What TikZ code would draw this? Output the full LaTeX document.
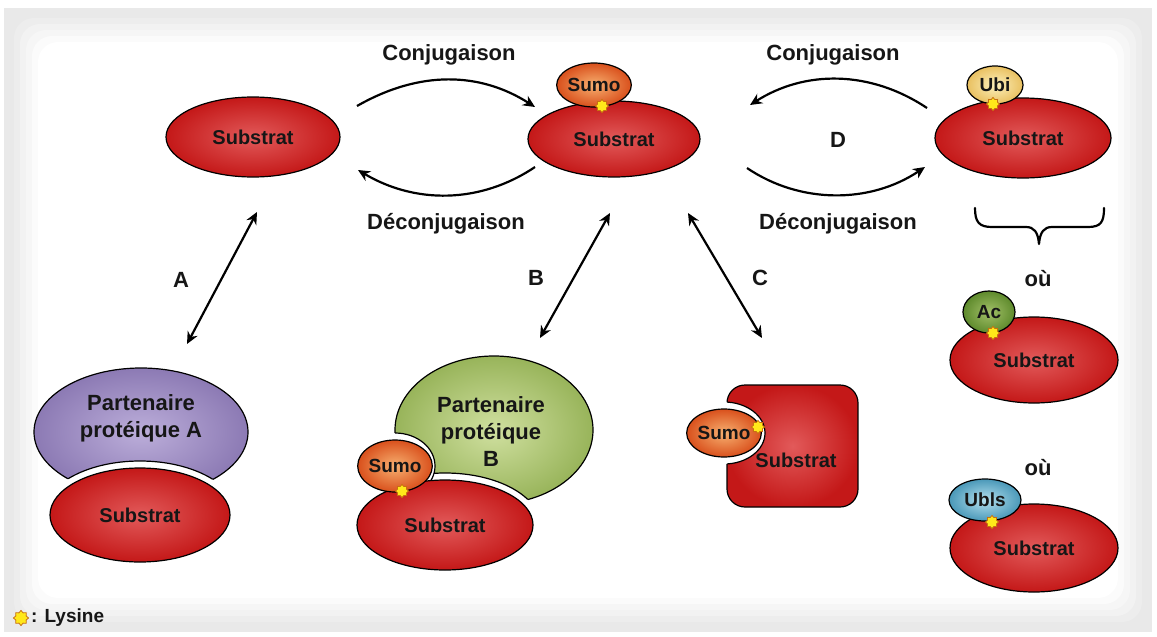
\documentclass[tikz,border=0pt]{standalone}
\usepackage{fontspec}
\setmainfont{Liberation Sans}
\usetikzlibrary{shapes.geometric,arrows.meta}
\definecolor{bggray}{HTML}{E9E9E9}
\definecolor{txt}{HTML}{161616}
\definecolor{redin}{HTML}{E25A5A}
\definecolor{redout}{HTML}{C41818}
\definecolor{sumoin}{HTML}{F7B070}
\definecolor{sumoout}{HTML}{D9501C}
\definecolor{ubiin}{HTML}{FCF0BC}
\definecolor{ubiout}{HTML}{E9C060}
\definecolor{acin}{HTML}{A2C068}
\definecolor{acout}{HTML}{5E8A2C}
\definecolor{ublsin}{HTML}{B4E0EE}
\definecolor{ublsout}{HTML}{4A98B8}
\definecolor{purin}{HTML}{BCAEDA}
\definecolor{purout}{HTML}{8C7AB4}
\definecolor{grnin}{HTML}{D0E0A0}
\definecolor{grnout}{HTML}{98B45A}
\definecolor{lysfill}{HTML}{FFE81A}
\definecolor{lysdraw}{HTML}{C87010}
\begin{document}
\begin{tikzpicture}[x=1pt,y=-1pt,
  lbl/.style={font=\bfseries\fontsize{22}{27}\selectfont, text=txt, inner sep=0pt},
  substrat/.style={ellipse, draw=black, line width=1.2pt, inner color=redin, outer color=redout,
    inner sep=0pt, text=txt, font=\bfseries\fontsize{20}{24}\selectfont},
  bubble/.style={ellipse, draw=black, line width=1.2pt, inner sep=0pt, text=txt,
    font=\bfseries\fontsize{19}{22}\selectfont},
  sumo/.style={bubble, inner color=sumoin, outer color=sumoout},
  ubi/.style={bubble, inner color=ubiin, outer color=ubiout},
  acet/.style={bubble, inner color=acin, outer color=acout},
  ubls/.style={bubble, inner color=ublsin, outer color=ublsout},
  lys/.style={star, star points=8, star point ratio=1.35, minimum size=13pt, inner sep=0pt,
    fill=lysfill, draw=lysdraw, line width=0.8pt},
  conn/.style={line width=2.2pt, draw=black},
  tipa/.style={conn, -{Stealth[length=12pt,width=11pt]}},
  tipb/.style={conn, {Stealth[length=12pt,width=11pt]}-{Stealth[length=12pt,width=11pt]}},
  gapline/.style={draw=black, line width=1.2pt, fill=white}
]
\useasboundingbox (0,0) rectangle (1157,637);
% background
\fill[white] (0,0) rectangle (1157,637);
\fill[bggray] (4,8) rectangle (1152,632);
\foreach \i/\p in {0/20,1/40,2/60,3/80,4/100}{
  \fill[white!\p!bggray, rounded corners=20pt] (14+6*\i,18+6*\i) rectangle (1142-6*\i,622-6*\i);
}

% ---------- top row ----------
\node[substrat, minimum width=174pt, minimum height=80pt] (s1) at (253,137) {Substrat};
\node[substrat, minimum width=172pt, minimum height=76pt] (s2) at (614,139) {Substrat};
\node[sumo, minimum width=66pt, minimum height=44pt] (sumo2) at (594,85) {Sumo};
\node[lys] (l2) at (602,106) {};
\node[substrat, minimum width=176pt, minimum height=80pt] (s3) at (1023,138) {Substrat};
\node[ubi, minimum width=56pt, minimum height=38pt] (ubi) at (995,85) {Ubi};
\node[lys] (l3) at (993,104) {};

\node[lbl] (conj1) at (449,55) {Conjugaison};
\node[lbl] (deconj1) at (446,224) {Déconjugaison};
\node[lbl] (conj2) at (833,55) {Conjugaison};
\node[lbl] (deconj2) at (838,224) {Déconjugaison};
\node[lbl] (labD) at (838,140) {D};

\coordinate (c1a) at (357,106);
\coordinate (c1b) at (535,107);
\coordinate (d1a) at (535,167);
\coordinate (d1b) at (358,170);
\coordinate (c2a) at (927,108);
\coordinate (c2b) at (750,105);
\coordinate (d2a) at (747,168);
\coordinate (d2b) at (925,167);
\draw[tipa] (c1a) .. controls (420,70) and (480,72) .. (c1b);
\draw[tipa] (d1a) .. controls (480,204) and (415,204) .. (d1b);
\draw[tipa] (c2a) .. controls (870,70) and (805,70) .. (c2b);
\draw[tipa] (d2a) .. controls (800,204) and (870,204) .. (d2b);

% ---------- diagonal arrows ----------
\coordinate (aTop) at (257,212);
\coordinate (aBot) at (187,344);
\coordinate (bTop) at (610,213);
\coordinate (bBot) at (540,338);
\coordinate (cTop) at (688,213);
\coordinate (cBot) at (762,338);
\draw[tipb] (aBot) -- (aTop);
\draw[tipb] (bBot) -- (bTop);
\draw[tipb] (cTop) -- (cBot);
\node[lbl] (labA) at (181,280) {A};
\node[lbl] (labB) at (536,278) {B};
\node[lbl] (labC) at (760,278) {C};

% ---------- A complex ----------
\begin{scope}[even odd rule]
  \clip (0,0) rectangle (1157,637) (140,515) ellipse [x radius=97, y radius=54];
  \shade[inner color=purin, outer color=purout, draw=black, line width=1.2pt]
    (141,432) ellipse [x radius=107, y radius=64];
\end{scope}
\begin{scope}
  \clip (141,432) ellipse [x radius=107, y radius=64];
  \path[gapline] (140,515) ellipse [x radius=97, y radius=54];
\end{scope}
\node[lbl, align=center] (partA) at (141,418) {Partenaire\\protéique A};
\node[substrat, minimum width=180pt, minimum height=94pt] (sA) at (140,515) {Substrat};

% ---------- B complex ----------
\begin{scope}[even odd rule]
  \clip (0,0) rectangle (1157,637) (445,525) ellipse [x radius=95, y radius=52];
  \begin{scope}
    \clip (0,0) rectangle (1157,637) (395,466) ellipse [x radius=40, y radius=33];
    \shade[inner color=grnin, outer color=grnout, draw=black, line width=1.2pt]
      (494,430) ellipse [x radius=99, y radius=74];
  \end{scope}
\end{scope}
\begin{scope}
  \clip (494,430) ellipse [x radius=99, y radius=74];
  \path[gapline] (445,525) ellipse [x radius=95, y radius=52];
  \path[gapline] (395,466) ellipse [x radius=40, y radius=33];
\end{scope}
\node[lbl, align=center] (partB) at (491,432) {Partenaire\\protéique\\B};
\node[substrat, minimum width=176pt, minimum height=90pt] (sB) at (445,525) {Substrat};
\node[sumo, minimum width=66pt, minimum height=52pt] (sumoB) at (395,466) {Sumo};
\node[lys] (lB) at (402,491) {};

% ---------- C complex ----------
\begin{scope}[even odd rule]
  \clip (0,0) rectangle (1157,637) (724,433) ellipse [x radius=41, y radius=31];
  \shade[inner color=redin, outer color=redout, draw=black, line width=1.2pt, rounded corners=18pt]
    (727,385) rectangle (858,507);
\end{scope}
\begin{scope}[rounded corners=18pt]
  \clip (727,385) rectangle (858,507);
  \path[gapline] (724,433) ellipse [x radius=41, y radius=31];
\end{scope}
\node[lbl, font=\bfseries\fontsize{20}{24}\selectfont] (sC) at (796,460) {Substrat};
\node[sumo, minimum width=68pt, minimum height=48pt] (sumoC) at (724,433) {Sumo};
\node[lys] (lC) at (758,427) {};

% ---------- right column ----------
\draw[conn, line cap=round, line join=round]
  (975,208) .. controls (975,222) and (979,227) .. (992,227) -- (1026,227)
  .. controls (1034,227) and (1038,232) .. (1039,244)
  .. controls (1040,232) and (1044,227) .. (1052,227) -- (1088,227)
  .. controls (1101,227) and (1104,222) .. (1104,208);
\node[lbl] (ou1) at (1038,279) {où};
\node[substrat, minimum width=168pt, minimum height=86pt] (s4) at (1034,360) {Substrat};
\node[acet, minimum width=52pt, minimum height=42pt] (ac) at (989,312) {Ac};
\node[lys] (l4) at (993,333) {};
\node[lbl] (ou2) at (1038,468) {où};
\node[substrat, minimum width=168pt, minimum height=88pt] (s5) at (1034,548) {Substrat};
\node[ubls, minimum width=72pt, minimum height=42pt] (ublsn) at (985,500) {Ubls};
\node[lys] (l5) at (992,522) {};

% ---------- legend ----------
\node[lys, minimum size=15pt] (leg) at (21,618) {};
\node[lbl, anchor=west, font=\bfseries\fontsize{19}{22}\selectfont] (legt) at (31,618) {: Lysine};
\end{tikzpicture}
\end{document}
